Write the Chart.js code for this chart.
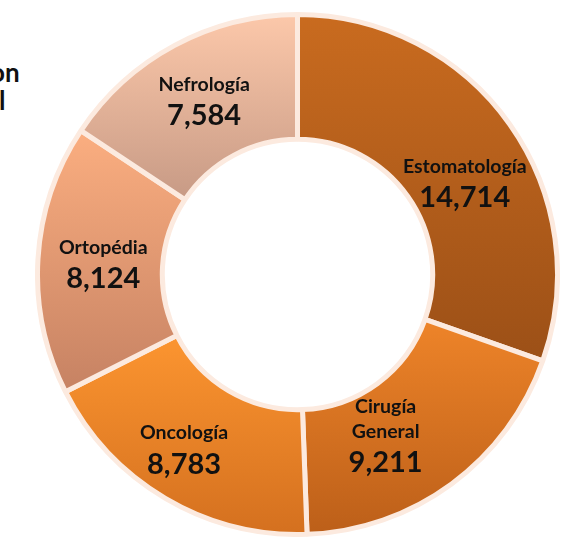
<!DOCTYPE html>
<html>
<head>
<meta charset="utf-8">
<script src="https://cdn.jsdelivr.net/npm/chart.js@4.4.1/dist/chart.umd.min.js"></script>
<style>
  body { margin: 0; background: #fff; width: 562px; height: 540px; overflow: hidden; position: relative; font-family: Lato, "DejaVu Sans", sans-serif; }
  #wrap { position: absolute; left: 35px; top: 12px; width: 525px; height: 525px; }
  .cut { position: absolute; font-weight: 700; font-size: 26px; line-height: 26px; color: #111; }
</style>
</head>
<body>
<div class="cut" style="left:-10px;top:59px;">on</div>
<div class="cut" style="left:-1px;top:87px;">l</div>
<div id="wrap"><canvas id="dona"></canvas></div>
<script>
const especialidades = ['Estomatología', ['Cirugía', 'General'], 'Oncología', 'Ortopédia', 'Nefrología'];
const consultas = [14714, 9211, 8783, 8124, 7584];
const topColors = ['#C96B1F', '#EE8429', '#FC9530', '#FBAE80', '#FCC8AA'];
const bottomColors = ['#9C5017', '#BC5F19', '#D4701F', '#C68263', '#C79A85'];
const labelNudge = [[6, 22], [-29, 1], [-13, 4], [3, 0], [0, 0]];

function bounds(el) {
  let top = Infinity, bottom = -Infinity;
  for (let i = 0; i <= 40; i++) {
    const a = el.startAngle + (el.endAngle - el.startAngle) * i / 40;
    [el.innerRadius, el.outerRadius].forEach(r => {
      const y = el.y + Math.sin(a) * r;
      top = Math.min(top, y);
      bottom = Math.max(bottom, y);
    });
  }
  return [top, bottom];
}

const gradientes = {
  id: 'gradientes',
  beforeDatasetsDraw(chart) {
    const ctx = chart.ctx;
    chart.getDatasetMeta(0).data.forEach((el, i) => {
      const [t, b] = bounds(el);
      const g = ctx.createLinearGradient(0, t, 0, b);
      g.addColorStop(0, topColors[i]);
      g.addColorStop(1, bottomColors[i]);
      el.options.backgroundColor = g;
    });
  }
};

const etiquetas = {
  id: 'etiquetas',
  afterDatasetsDraw(chart) {
    const ctx = chart.ctx;
    ctx.save();
    ctx.fillStyle = '#111';
    ctx.textAlign = 'center';
    ctx.textBaseline = 'middle';
    chart.getDatasetMeta(0).data.forEach((el, i) => {
      const mid = (el.startAngle + el.endAngle) / 2;
      const r = (el.innerRadius + el.outerRadius) / 2;
      const cx = el.x + Math.cos(mid) * r + labelNudge[i][0];
      const cy = el.y + Math.sin(mid) * r + labelNudge[i][1];
      const names = [].concat(especialidades[i]);
      const h = (names.length - 1) * 25 + 31;
      let y = cy - h / 2;
      ctx.font = '700 19.5px Lato, "DejaVu Sans", sans-serif';
      names.forEach((n, k) => ctx.fillText(n, cx, y + k * 25));
      ctx.font = '700 29px Lato, "DejaVu Sans", sans-serif';
      ctx.fillText(consultas[i].toLocaleString('en-US'), cx, y + h);
    });
    ctx.restore();
  }
};

new Chart(document.getElementById('dona'), {
  type: 'doughnut',
  data: {
    labels: especialidades.map(e => [].concat(e).join(' ')),
    datasets: [{
      data: consultas,
      backgroundColor: topColors,
      borderColor: '#FCEADF',
      borderWidth: 5
    }]
  },
  options: {
    responsive: true,
    maintainAspectRatio: false,
    animation: false,
    cutout: '52%',
    layout: { padding: 0 },
    plugins: {
      legend: { display: false },
      tooltip: { enabled: false }
    }
  },
  plugins: [gradientes, etiquetas]
});
</script>
</body>
</html>
